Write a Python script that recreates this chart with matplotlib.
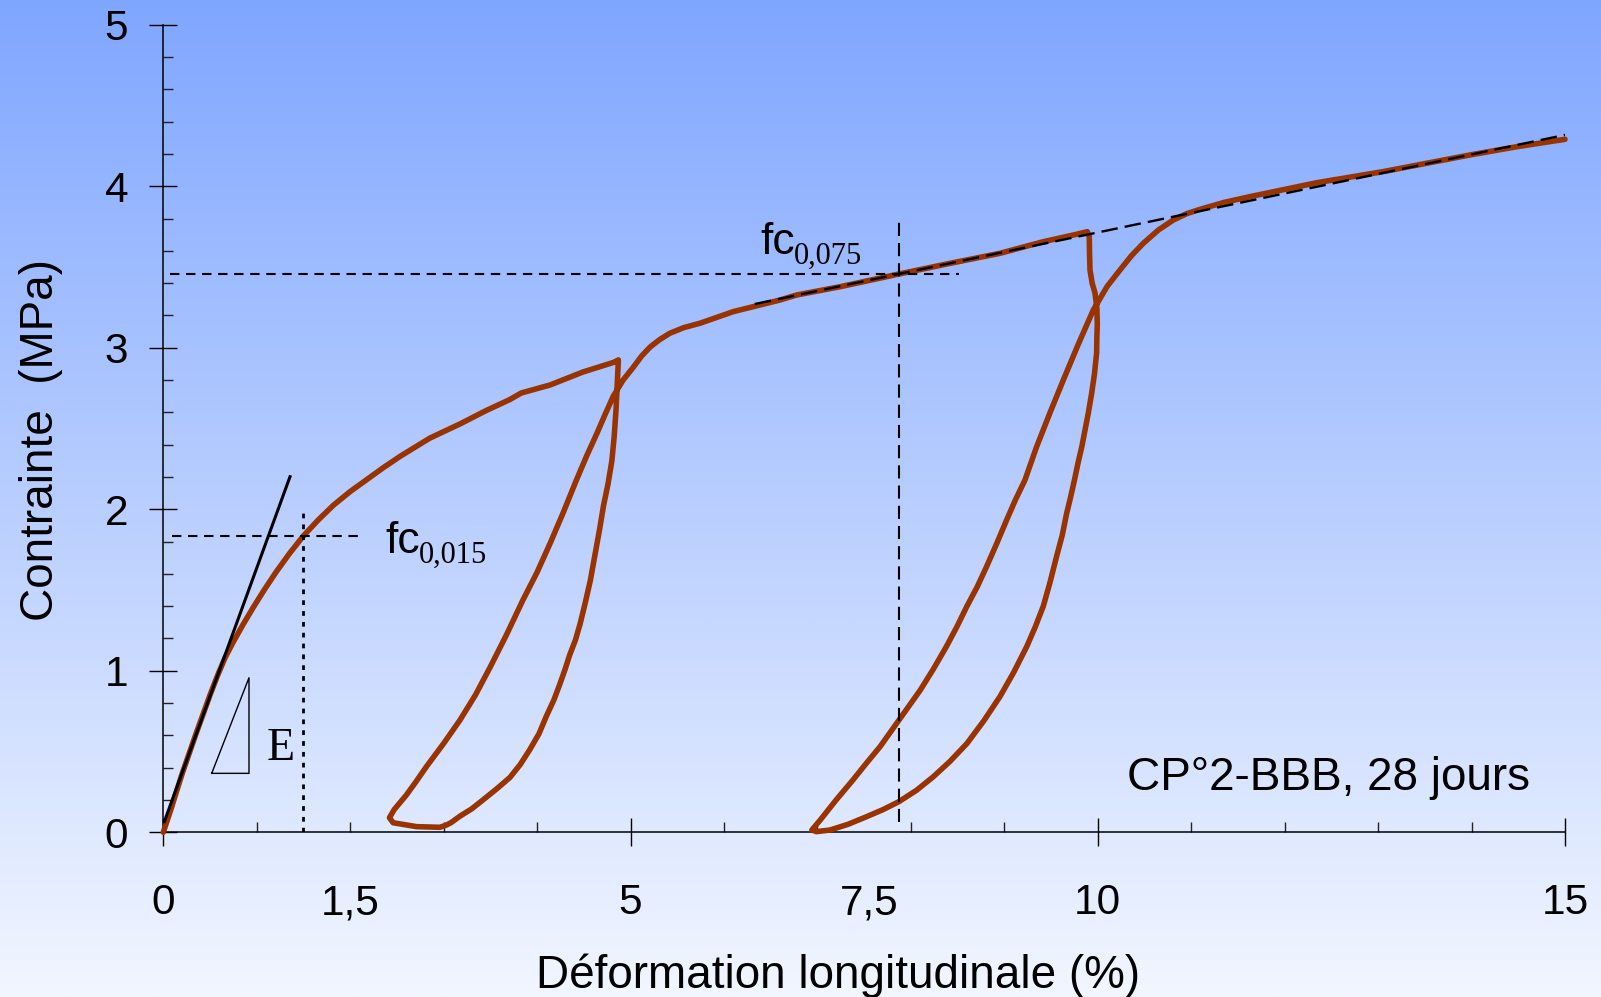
import numpy as np
import matplotlib
matplotlib.use("Agg")
import matplotlib.pyplot as plt
from matplotlib import transforms as mtransforms
from matplotlib.ticker import FixedLocator, MultipleLocator

# Stress-strain curve with two unloading/reloading cycles (strain in %, stress in MPa)
strain = [
    # initial loading
    0.00, 0.08, 0.20, 0.35, 0.50, 0.58, 0.66, 0.75, 0.85, 0.96, 1.08, 1.21,
    1.35, 1.50, 1.66, 1.82, 2.00, 2.18, 2.36, 2.54, 2.85, 3.18, 3.45, 3.71,
    3.83, 4.14, 4.49, 4.82, 4.87,
    # first unloading
    4.86, 4.845, 4.825, 4.80, 4.76, 4.71, 4.67, 4.62, 4.57, 4.515, 4.46, 4.41,
    4.35, 4.30, 4.245, 4.18, 4.10, 4.02, 3.92, 3.82, 3.71, 3.57, 3.42, 3.30,
    3.175, 3.08, 3.03, 2.96, 2.71, 2.46, 2.42,
    # first reloading
    2.47, 2.60, 2.70, 2.82, 3.00, 3.175, 3.34, 3.50, 3.67, 3.85, 4.00, 4.14,
    4.28, 4.42, 4.53, 4.64, 4.73, 4.815, 4.92, 5.03, 5.12, 5.21, 5.31, 5.42,
    5.57,
    # plateau
    5.743, 6.10, 6.60, 6.778, 7.241, 7.873, 8.419, 8.953, 9.417, 9.774, 9.888,
    # second unloading
    9.909, 9.912, 9.917, 9.94, 9.97, 9.99, 9.995, 9.99, 9.988, 9.965, 9.935,
    9.90, 9.863, 9.83, 9.79, 9.75, 9.703, 9.667, 9.62, 9.56, 9.49, 9.417,
    9.33, 9.24, 9.10, 8.953, 8.78, 8.60, 8.42, 8.24, 8.06, 7.873, 7.70, 7.527,
    7.33, 7.134, 6.99,
    # second reloading
    6.94, 7.03, 7.20, 7.38, 7.52, 7.67, 7.873, 8.10, 8.24, 8.38, 8.49, 8.60,
    8.71, 8.81, 8.92, 9.025, 9.12, 9.22, 9.346, 9.49, 9.631, 9.79, 9.952,
    10.10, 10.238, 10.36, 10.487, 10.65, 10.808, 10.95, 11.093, 11.35, 11.629,
    12.342, 13.055, 13.983, 14.483, 15.0,
]
stress = [
    0.00, 0.14, 0.36, 0.61, 0.85, 0.97, 1.08, 1.18, 1.283, 1.39, 1.501, 1.614,
    1.726, 1.836, 1.935, 2.025, 2.11, 2.185, 2.26, 2.33, 2.44, 2.53, 2.61, 2.68,
    2.72, 2.77, 2.85, 2.91, 2.925,
    2.80, 2.62, 2.45, 2.30, 2.16, 2.02, 1.88, 1.72, 1.56, 1.42, 1.29, 1.19,
    1.10, 1.01, 0.92, 0.82, 0.72, 0.61, 0.51, 0.42, 0.34, 0.27, 0.20, 0.145,
    0.10, 0.06, 0.045, 0.031, 0.035, 0.059, 0.09,
    0.14, 0.23, 0.31, 0.41, 0.55, 0.695, 0.85, 1.025, 1.22, 1.44, 1.61, 1.79,
    1.98, 2.18, 2.33, 2.47, 2.59, 2.70, 2.80, 2.88, 2.95, 3.005, 3.05, 3.09,
    3.125,
    3.152, 3.224, 3.296, 3.327, 3.378, 3.457, 3.523, 3.585, 3.657, 3.703, 3.719,
    3.688, 3.58, 3.48, 3.40, 3.34, 3.25, 3.15, 3.06, 2.97, 2.84, 2.72,
    2.60, 2.49, 2.39, 2.29, 2.18, 2.06, 1.975, 1.84, 1.71, 1.55, 1.40,
    1.27, 1.15, 0.99, 0.84, 0.69, 0.55, 0.44, 0.344, 0.26, 0.19, 0.14, 0.097,
    0.05, 0.014, 0.004,
    0.014, 0.076, 0.20, 0.324, 0.425, 0.53, 0.695, 0.88, 1.01, 1.15, 1.27, 1.40,
    1.52, 1.645, 1.79, 1.934, 2.06, 2.18, 2.388, 2.60, 2.80, 3.02, 3.234,
    3.38, 3.482, 3.57, 3.647, 3.73, 3.791, 3.83, 3.857, 3.90, 3.936,
    4.022, 4.091, 4.194, 4.245, 4.291,
]

# Initial tangent (modulus E)
tangent_x = [0.011, 1.356]
tangent_y = [0.066, 2.202]
# Slope triangle
triangle_x = [0.518, 0.917, 0.917, 0.518]
triangle_y = [0.365, 0.365, 0.957, 0.365]

# fc at 1.5 % strain
fc015_strain = 1.5
fc015_stress = 1.835
# fc at 7.5 % strain (read on the plateau trend line)
fc075_strain = 7.873
fc075_stress = 3.457
# Plateau trend line
trend_x = [6.33, 15.0]
trend_y = [3.271, 4.318]

xtick_pos = [0, 2.0, 5, 7.55, 10, 15]
xtick_text = ["0", "1,5", "5", "7,5", "10", "15"]

sans = "Liberation Sans"
serif = "Liberation Serif"
curve_color = "#993300"

fig = plt.figure(figsize=(16.01, 9.97), dpi=100)

# Vertical blue-to-white background gradient
bg = fig.add_axes([0, 0, 1, 1], zorder=-10)
top = np.array([127, 166, 255]) / 255.0
bottom = np.array([242, 246, 255]) / 255.0
t = np.linspace(0, 1, 512)[:, None, None]
bg.imshow(top + (bottom - top) * t, aspect="auto", extent=[0, 1, 0, 1],
          origin="upper", interpolation="bilinear")
bg.axis("off")

ax = fig.add_axes([0.1020, 0.1652, 0.87552, 0.80993])
ax.set_facecolor("none")
ax.set_xlim(0, 15)
ax.set_ylim(0, 5)

for side in ("top", "right"):
    ax.spines[side].set_visible(False)
for side in ("left", "bottom"):
    ax.spines[side].set_linewidth(1.1)
    ax.spines[side].set_color("black")

ax.xaxis.set_major_locator(FixedLocator([0, 5, 10, 15]))
ax.xaxis.set_minor_locator(MultipleLocator(1))
ax.yaxis.set_major_locator(MultipleLocator(1))
ax.yaxis.set_minor_locator(MultipleLocator(0.2))
ax.tick_params(which="major", direction="inout", length=20.6, width=1.0, color="black")
ax.tick_params(which="minor", direction="in", length=7.5, width=1.0, color="#222222")
ax.tick_params(axis="x", which="both", labelbottom=False)
ax.tick_params(axis="y", which="major", labelsize=30.5, pad=15)
for lab in ax.get_yticklabels():
    lab.set_fontfamily(sans)

# Custom x tick labels
xlab_tr = mtransforms.blended_transform_factory(ax.transData, ax.transAxes)
for xp, txt in zip(xtick_pos, xtick_text):
    ax.text(xp, -0.1012, txt, transform=xlab_tr, ha="center", va="baseline",
            fontsize=30.5, family=sans, clip_on=False)

# Main curve
ax.plot(strain, stress, color=curve_color, lw=4.0, solid_joinstyle="round",
        solid_capstyle="round", zorder=3, clip_on=False)

# Tangent and slope triangle
ax.plot(tangent_x, tangent_y, color="black", lw=2.2, zorder=4)
ax.plot(triangle_x, triangle_y, color="black", lw=1.0, zorder=4)
ax.text(1.107, 0.448, "E", family=serif, fontsize=33, ha="left", va="baseline")

# fc 0,015 construction lines
ax.plot([0.09, 2.09], [fc015_stress, fc015_stress], color="black", lw=1.5,
        dashes=(4.5, 3.2), zorder=4)
ax.plot([fc015_strain, fc015_strain], [0, 2.0], color="black", lw=2.0,
        dashes=(1.7, 2.2), zorder=4)

# fc 0,075 construction lines
ax.plot([0.07, 8.52], [fc075_stress, fc075_stress], color="black", lw=1.5,
        dashes=(4.5, 3.2), zorder=4)
ax.plot([fc075_strain, fc075_strain], [0.066, 3.78], color="black", lw=1.5,
        dashes=(6.3, 3.4), zorder=4)
ax.plot(trend_x, trend_y, color="black", lw=1.7, dashes=(7, 3), zorder=5)


def fc_label(x, y, sub):
    ax.text(x, y, "fc", family=sans, fontsize=32, ha="left", va="baseline")
    tr = mtransforms.offset_copy(ax.transData, fig=fig, x=24.5, y=-7.0,
                                 units="points")
    ax.text(x, y, sub, family=serif, fontsize=22, ha="left", va="baseline",
            transform=tr)


fc_label(2.372, 1.728, "0,015")
fc_label(6.385, 3.581, "0,075")

ax.text(10.31, 0.262, "CP°2-BBB, 28 jours", family=sans, fontsize=33,
        ha="left", va="baseline")

fig.text(838 / 1601, 0.009, "Déformation longitudinale (%)", family=sans,
         fontsize=33, ha="center", va="baseline")
fig.text(41 / 1601, 0.5587, "Contrainte  (MPa)", family=sans, fontsize=33,
         rotation=90, ha="center", va="center")

fig.savefig("out.png", dpi=100)
